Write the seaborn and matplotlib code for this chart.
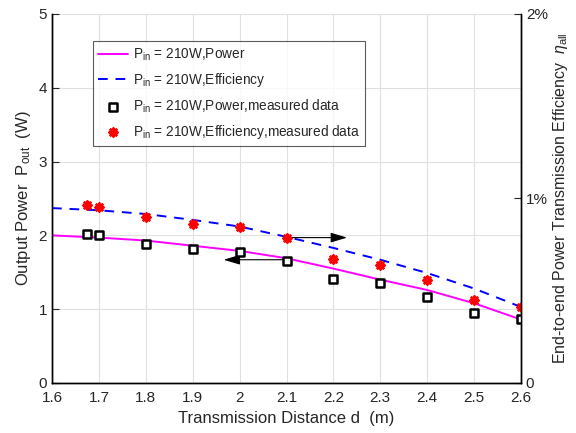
import numpy as np
import matplotlib
matplotlib.use("Agg")
import matplotlib.pyplot as plt
import seaborn as sns

# fitted curves
d_curve = [1.6, 1.7, 1.8, 1.9, 2.0, 2.1, 2.2, 2.3, 2.4, 2.5, 2.6]
p_curve = [2.00, 1.97, 1.93, 1.86, 1.79, 1.69, 1.55, 1.40, 1.26, 1.08, 0.86]
eff_curve = [0.948, 0.936, 0.916, 0.884, 0.848, 0.792, 0.732, 0.668, 0.596, 0.512, 0.412]

# measured data
d_meas = [1.675, 1.7, 1.8, 1.9, 2.0, 2.1, 2.2, 2.3, 2.4, 2.5, 2.6]
p_meas = [2.02, 2.00, 1.88, 1.82, 1.78, 1.65, 1.41, 1.35, 1.165, 0.945, 0.867]
eff_meas = [0.964, 0.952, 0.898, 0.864, 0.848, 0.784, 0.672, 0.64, 0.556, 0.45, 0.414]

x_ticks = [1.6, 1.7, 1.8, 1.9, 2.0, 2.1, 2.2, 2.3, 2.4, 2.5, 2.6]
x_labels = ["1.6", "1.7", "1.8", "1.9", "2", "2.1", "2.2", "2.3", "2.4", "2.5", "2.6"]

sns.set_style("white")
plt.rcParams['font.family'] = ['Liberation Sans', 'DejaVu Sans']
plt.rcParams['mathtext.fontset'] = 'custom'
plt.rcParams['mathtext.rm'] = 'Liberation Sans'
plt.rcParams['mathtext.it'] = 'Liberation Sans:italic'

fig = plt.figure(figsize=(5.76, 4.33), dpi=100)
ax = fig.add_axes([0.0903, 0.1155, 0.8142, 0.8522])
ax2 = ax.twinx()

# left axis: power, right axis: efficiency scaled 0-2% -> 0-5
scale = 2.5
lbl = r"P$_{\mathrm{in}}$ = 210W,"
ax.plot(d_curve, p_curve, color="#ff00ff", lw=1.4, label=lbl + "Power")
ax.plot(d_curve, [e * scale for e in eff_curve], color="#0000ff", lw=1.4,
        ls=(0, (5, 4)), label=lbl + "Efficiency")
sns.scatterplot(x=d_meas, y=p_meas, ax=ax, marker="s", s=28, facecolor="white",
                edgecolor="black", linewidth=1.8, label=lbl + "Power,measured data", zorder=5)
sns.scatterplot(x=d_meas, y=[e * scale for e in eff_meas], ax=ax, marker=(8, 2, 0), s=30,
                color="red", edgecolor="red", linewidth=2, label=lbl + "Efficiency,measured data", zorder=5)

arrow = dict(arrowstyle="-|>,head_length=1.0,head_width=0.3", color="black", lw=0.8)
ax.annotate("", xy=(2.235, 1.97), xytext=(2.1, 1.97), arrowprops=arrow)
ax.annotate("", xy=(1.96, 1.67), xytext=(2.1, 1.67), arrowprops=arrow)

ax.set_xlim(1.6, 2.6)
ax.set_ylim(0, 5)
ax.set_xticks(x_ticks)
ax.set_xticklabels(x_labels)
ax.set_yticks([0, 1, 2, 3, 4, 5])
ax.grid(True, color="#e0e0e0", lw=0.8)
ax.set_axisbelow(True)

ax2.set_ylim(0, 2)
ax2.set_yticks([0, 1, 2])
ax2.set_yticklabels(["0", "1%", "2%"])

for a in (ax, ax2):
    a.spines["top"].set_visible(False)
    for s in ("left", "right", "bottom"):
        a.spines[s].set_color("black")
        a.spines[s].set_linewidth(1.0)
ax.tick_params(axis="both", direction="in", length=5, labelsize=11, colors="#262626")
ax.tick_params(axis="x", pad=6)
ax2.tick_params(axis="y", direction="in", length=5, labelsize=11, colors="#262626")

ax.set_xlabel("Transmission Distance d  (m)", fontsize=12, color="#262626")
ax.set_ylabel(r"Output Power  P$_{\mathrm{out}}$  (W)", fontsize=12, color="#262626")
ax2.set_ylabel(r"End-to-end Power Transmission Efficiency  $\eta_{\mathrm{all}}$",
               fontsize=11.5, color="#262626", labelpad=2)

leg = ax.legend(loc="upper left", bbox_to_anchor=(0.073, 0.945), fontsize=9.8, frameon=True,
                fancybox=False, edgecolor="#333333", handlelength=2.2, labelspacing=0.6,
                borderpad=0.4, handletextpad=0.3)
leg.get_frame().set_linewidth(0.8)

fig.savefig("out.png", dpi=100)
